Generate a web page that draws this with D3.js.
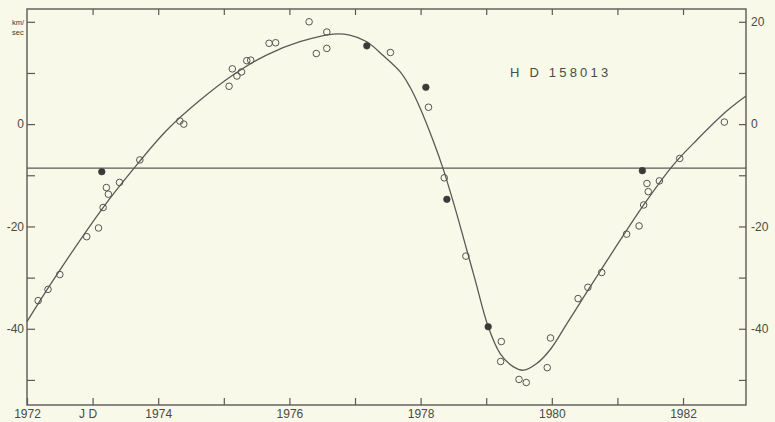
<!DOCTYPE html>
<html>
<head>
<meta charset="utf-8">
<script src="https://cdn.jsdelivr.net/npm/d3@7"></script>
<style>
  html, body { margin: 0; padding: 0; background: #f8f9e8; }
  svg { display: block; }
  text { font-family: "Liberation Sans", Arial, sans-serif; fill: #4a4a48; }
</style>
</head>
<body>
<script>
// ---- data ----
const openYears = [1972.17,1972.32,1972.50,1972.91,1973.09,1973.16,1973.21,1973.24,1973.41,1973.72,
  1974.33,1974.39,1975.08,1975.13,1975.20,1975.27,1975.35,1975.41,1975.69,1975.79,
  1976.30,1976.41,1976.57,1976.57,1977.54,1978.12,1978.36,1978.69,1979.23,1979.22,
  1979.50,1979.61,1979.93,1979.98,1980.40,1980.55,1980.76,1981.14,1981.33,1981.40,
  1981.45,1981.47,1981.64,1981.95,1982.63];
const openVel = [-34.5,-32.3,-29.4,-22.0,-20.3,-16.3,-12.4,-13.7,-11.4,-7.0,
  0.6,0.0,7.4,10.8,9.4,10.2,12.4,12.5,15.8,15.9,
  20.0,13.8,18.0,14.8,14.0,3.3,-10.5,-25.8,-42.5,-46.4,
  -49.9,-50.5,-47.6,-41.8,-34.1,-31.9,-29.0,-21.5,-19.9,-15.8,
  -11.6,-13.2,-11.1,-6.7,0.4];
const filledYears = [1973.14,1977.18,1978.08,1978.40,1979.03,1981.38];
const filledVel = [-9.3,15.3,7.2,-14.7,-39.6,-9.1];
const curveYears = [1972.00,1972.40,1973.16,1973.62,1974.13,1974.64,1975.14,1975.65,1976.16,1976.67,
  1976.92,1977.18,1977.43,1977.69,1977.84,1977.99,1978.19,1978.34,1978.50,1978.70,
  1978.83,1979.03,1979.21,1979.41,1979.57,1979.77,1979.98,1980.23,1980.53,1980.73,
  1981.40,1981.85,1982.21,1982.67,1982.96];
const curveVel = [-38.6,-30.5,-16.3,-8.8,-1.2,4.7,9.6,13.5,16.1,17.6,
  17.4,16.1,13.4,10.2,7.2,3.2,-3.2,-8.6,-15.3,-24.4,
  -30.4,-39.6,-44.8,-47.4,-48.1,-46.8,-44.0,-39.0,-32.9,-28.9,
  -15.8,-8.0,-3.1,2.6,5.5];
const systemVelocity = -8.6;
const xTicks = [1972,1973,1974,1975,1976,1977,1978,1979,1980,1981,1982];
const xTickLabels = ["1972","J  D","1974","","1976","","1978","","1980","","1982"];
const yTicks = [-50,-40,-30,-20,-10,0,10,20];
const yLeftLabels = ["","-40","","-20","","0","",""];
const yRightLabels = ["","-40","","-20","","0","","20"];
const title = "H D 158013";

// ---- drawing ----
const W = 775, H = 422;
const svg = d3.select("body").append("svg").attr("width", W).attr("height", H);
const x = d3.scaleLinear().domain([1972, 1982.96]).range([27, 746]);
const y = d3.scaleLinear().domain([-54.9, 22.5]).range([405, 9]);
const ink = "#5a5a56";

// frame
svg.append("rect").attr("x", x.range()[0]).attr("y", y.range()[1])
  .attr("width", x.range()[1] - x.range()[0]).attr("height", y.range()[0] - y.range()[1])
  .attr("fill", "none").attr("stroke", ink).attr("stroke-width", 1.4);

function styleAxis(g) {
  g.select(".domain").remove();
  g.selectAll(".tick line").attr("stroke", ink).attr("stroke-width", 1.2);
  g.selectAll(".tick text").attr("font-size", 12).style("fill", "#4a4a48");
}

// bottom axis
svg.append("g").attr("transform", `translate(0,${y.range()[0]})`)
  .call(d3.axisBottom(x).tickValues(xTicks).tickSizeInner(-7).tickSizeOuter(0).tickPadding(4)
    .tickFormat((d, i) => xTickLabels[i]))
  .call(styleAxis)
  .call(g => g.selectAll(".tick text").filter((d) => d === 1973).attr("dx", -5));
// top axis (ticks only)
svg.append("g").attr("transform", `translate(0,${y.range()[1]})`)
  .call(d3.axisTop(x).tickValues(xTicks.slice(1)).tickSizeInner(-6).tickSizeOuter(0).tickFormat(""))
  .call(styleAxis);
// left axis
svg.append("g").attr("transform", `translate(${x.range()[0]},0)`)
  .call(d3.axisLeft(y).tickValues(yTicks).tickSizeInner(-8).tickSizeOuter(0).tickPadding(3)
    .tickFormat((d, i) => yLeftLabels[i]))
  .call(styleAxis);
// right axis
svg.append("g").attr("transform", `translate(${x.range()[1]},0)`)
  .call(d3.axisRight(y).tickValues(yTicks).tickSizeInner(-7).tickSizeOuter(0).tickPadding(5)
    .tickFormat((d, i) => yRightLabels[i]))
  .call(styleAxis);

// km/sec unit at the 20 tick
svg.append("text").attr("x", 12).attr("y", y(20) + 3).attr("font-size", 7.5).style("fill", "#3a3a38").text("km/");
svg.append("text").attr("x", 12).attr("y", y(20) + 13).attr("font-size", 7.5).style("fill", "#3a3a38").text("sec");

// systemic velocity line
svg.append("line").attr("x1", x.range()[0]).attr("x2", x.range()[1])
  .attr("y1", y(systemVelocity)).attr("y2", y(systemVelocity))
  .attr("stroke", ink).attr("stroke-width", 1.3);

// velocity curve
const curveData = curveYears.map((t, i) => [t, curveVel[i]]);
svg.append("path").datum(curveData)
  .attr("d", d3.line().x(d => x(d[0])).y(d => y(d[1])).curve(d3.curveCatmullRom.alpha(0.5)))
  .attr("fill", "none").attr("stroke", ink).attr("stroke-width", 1.3);

// observations
svg.append("g").selectAll("circle").data(openYears.map((t, i) => [t, openVel[i]]))
  .join("circle").attr("cx", d => x(d[0])).attr("cy", d => y(d[1])).attr("r", 3.3)
  .attr("fill", "none").attr("stroke", "#555552").attr("stroke-width", 1);
svg.append("g").selectAll("circle").data(filledYears.map((t, i) => [t, filledVel[i]]))
  .join("circle").attr("cx", d => x(d[0])).attr("cy", d => y(d[1])).attr("r", 3.3)
  .attr("fill", "#3a3a38").attr("stroke", "#3a3a38").attr("stroke-width", 0.6);

// title
svg.append("text").attr("x", 510).attr("y", 77).attr("font-size", 13)
  .attr("letter-spacing", 3.2).text(title);
</script>
</body>
</html>
